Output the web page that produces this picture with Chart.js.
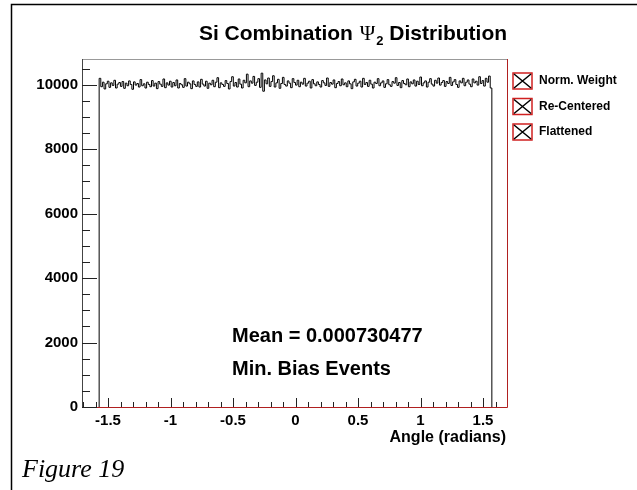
<!DOCTYPE html>
<html>
<head>
<meta charset="utf-8">
<script src="https://cdn.jsdelivr.net/npm/chart.js@4.4.0/dist/chart.umd.min.js"></script>
<style>
  body { margin: 0; background: #fff; }
  canvas { display: block; }
</style>
</head>
<body>
<canvas id="c" width="637" height="490"></canvas>
<script>
// histogram range (radians) and bin contents
const binLow = -Math.PI / 2;
const binHigh = Math.PI / 2;
const counts = [
  10200, 9940, 10080, 9870, 10030, 10110, 9920, 10060, 9980, 10140, 9900, 10020, 10070, 9950, 10100,
  9890, 10050, 9970, 10120, 10010, 9860, 10090, 9990, 10040, 9930, 10160, 9970, 10030, 9900, 10080,
  10010, 9940, 10130, 9960, 10050, 9880, 10100, 10020, 9950, 10180, 9910, 10060, 9990, 10110, 9930,
  10070, 9970, 10150, 9900, 10040, 10000, 9920, 10190, 9960, 10080, 10030, 9880, 10120, 10010, 9950,
  10090, 9930, 10170, 10020, 9960, 10110, 9890, 10050, 10000, 10140, 9940, 10080, 10220, 9910, 10060,
  10010, 9950, 10130, 10040, 9870, 10100, 10250, 9960, 10070, 9930, 10180, 10020, 9900, 10140, 10060,
  10330, 9940, 10120, 10050, 10260, 9980, 10080, 10190, 9920, 10360, 9800, 10150, 10030, 10210, 9950,
  10100, 10280, 9930, 10060, 10170, 9890, 10040, 10230, 10010, 9960, 10120, 10050, 9910, 10190, 10070,
  9990, 10140, 9940, 10080, 10020, 10200, 9960, 10050, 10110, 9900, 10160, 10030, 9970, 10090, 10010,
  9930, 10130, 10060, 9980, 10210, 9950, 10070, 10020, 10150, 9910, 10040, 10100, 9970, 10180, 10000,
  10060, 9940, 10120, 10030, 9880, 10090, 10170, 9960, 10050, 10110, 9930, 10200, 10010, 10070, 9950,
  10140, 10020, 9900, 10080, 10040, 10190, 9970, 10060, 10120, 9920, 10030, 10160, 10000, 9950, 10100,
  10050, 10220, 9980, 10070, 9910, 10130, 10040, 10000, 10180, 9940, 10090, 10030, 10150, 9960, 10110,
  10010, 10240, 9970, 10060, 10120, 9930, 10080, 10190, 10020, 9960, 10140, 10050, 10210, 9990, 10070,
  10130, 9950, 10100, 10040, 10230, 9980, 10090, 10160, 10010, 9920, 10120, 10060, 10200, 9970, 10080,
  10150, 10020, 9940, 10180, 10060, 10110, 9990, 10250, 10040, 10130, 9960, 10200, 10080, 10270, 9900
];
const xMajor = [-1.5, -1, -0.5, 0, 0.5, 1, 1.5];
const xMinorStep = 0.1;
const yMajor = [0, 2000, 4000, 6000, 8000, 10000];
const yMinorStep = 500;
const legendLabels = ['Norm. Weight', 'Re-Centered', 'Flattened'];
const statLines = ['Mean = 0.000730477', 'Min. Bias Events'];
const xTitle = 'Angle (radians)';
const caption = 'Figure 19';

// step outline: start at 0, each bin edge carries that bin's value, back to 0
function histPoints() {
  const w = (binHigh - binLow) / counts.length;
  const pts = [{ x: binLow, y: 0 }];
  counts.forEach((c, i) => pts.push({ x: binLow + i * w, y: c }));
  pts.push({ x: binHigh, y: counts[counts.length - 1] });
  pts.push({ x: binHigh, y: 0 });
  return pts;
}

const SANS = '"Liberation Sans", Arial, sans-serif';

const decor = {
  id: 'decor',
  afterDatasetsDraw(chart) {
    const ctx = chart.ctx;
    const a = chart.chartArea;
    const xs = chart.scales.x, ys = chart.scales.y;
    ctx.save();

    // outer page frame
    ctx.strokeStyle = '#000';
    ctx.lineWidth = 1.5;
    ctx.beginPath();
    ctx.moveTo(11.5, 490);
    ctx.lineTo(11.5, 4.5);
    ctx.lineTo(637, 4.5);
    ctx.stroke();

    // plot frame
    ctx.lineWidth = 1;
    ctx.strokeStyle = '#999';
    ctx.beginPath();
    ctx.moveTo(a.left, a.top + 0.5); ctx.lineTo(a.right, a.top + 0.5);
    ctx.stroke();
    ctx.strokeStyle = '#444';
    ctx.beginPath();
    ctx.moveTo(a.left + 0.5, a.top); ctx.lineTo(a.left + 0.5, a.bottom);
    ctx.stroke();
    ctx.strokeStyle = '#b02020';
    ctx.beginPath();
    ctx.moveTo(a.left, a.bottom + 0.5); ctx.lineTo(a.right + 0.5, a.bottom + 0.5);
    ctx.lineTo(a.right + 0.5, a.top);
    ctx.stroke();

    // x ticks (inside, going up)
    ctx.strokeStyle = '#222';
    ctx.beginPath();
    for (let v = -1.7; v <= 1.7001; v += xMinorStep) {
      const px = Math.round(xs.getPixelForValue(v)) + 0.5;
      if (px < a.left + 1 || px > a.right - 1) continue;
      const major = xMajor.some(m => Math.abs(m - v) < 1e-6);
      ctx.moveTo(px, a.bottom);
      ctx.lineTo(px, a.bottom - (major ? 9 : 5));
    }
    // y ticks (inside, going right)
    for (let v = 0; v <= ys.max; v += yMinorStep) {
      const py = Math.round(ys.getPixelForValue(v)) + 0.5;
      if (py < a.top + 1) continue;
      const major = yMajor.includes(v);
      ctx.moveTo(a.left, py);
      ctx.lineTo(a.left + (major ? 15 : 8), py);
    }
    ctx.stroke();

    // tick labels
    ctx.fillStyle = '#000';
    ctx.font = 'bold 15px ' + SANS;
    ctx.textAlign = 'center';
    ctx.textBaseline = 'top';
    xMajor.forEach(v => ctx.fillText(String(v), xs.getPixelForValue(v), a.bottom + 6));
    ctx.textAlign = 'right';
    ctx.textBaseline = 'middle';
    yMajor.forEach(v => ctx.fillText(String(v), a.left - 4, ys.getPixelForValue(v)));

    // axis title
    ctx.textAlign = 'right';
    ctx.textBaseline = 'alphabetic';
    ctx.font = 'bold 16px ' + SANS;
    ctx.fillText(xTitle, a.right - 1, 442);

    // title with Psi_2
    const t1 = 'Si Combination ', t3 = ' Distribution';
    const fB = 'bold 21px ' + SANS, fPsi = '21px "Liberation Serif", "DejaVu Serif", serif', fSub = 'bold 13px ' + SANS;
    ctx.font = fB; const w1 = ctx.measureText(t1).width, w3 = ctx.measureText(t3).width;
    ctx.font = fPsi; const wP = ctx.measureText('\u03A8').width + 2;
    ctx.font = fSub; const wS = ctx.measureText('2').width;
    let x = 353 - (w1 + wP + wS + w3) / 2;
    const by = 40;
    ctx.textAlign = 'left';
    ctx.font = fB; ctx.fillText(t1, x, by); x += w1;
    ctx.font = fPsi; ctx.fillText('\u03A8', x + 1, by); x += wP;
    ctx.font = fSub; ctx.fillText('2', x, by + 5); x += wS;
    ctx.font = fB; ctx.fillText(t3, x, by);

    // statistics text
    ctx.font = 'bold 20px ' + SANS;
    ctx.fillText(statLines[0], 232, 342);
    ctx.fillText(statLines[1], 232, 375);

    // legend
    ctx.font = 'bold 12px ' + SANS;
    ctx.textBaseline = 'middle';
    legendLabels.forEach((lab, i) => {
      const cy = 81 + i * 25.5;
      const bx = 513, bw = 19, bh = 16, top = cy - bh / 2;
      ctx.fillStyle = '#fff';
      ctx.fillRect(bx, top, bw, bh);
      ctx.strokeStyle = '#d02020';
      ctx.lineWidth = 1.5;
      ctx.strokeRect(bx, top, bw, bh);
      ctx.strokeStyle = '#000';
      ctx.lineWidth = 1.5;
      ctx.beginPath();
      ctx.moveTo(bx + 1, top + 1); ctx.lineTo(bx + bw - 1, top + bh - 1);
      ctx.moveTo(bx + bw - 1, top + 1); ctx.lineTo(bx + 1, top + bh - 1);
      ctx.stroke();
      ctx.fillStyle = '#000';
      ctx.fillText(lab, 539, cy);
    });

    // caption
    ctx.textBaseline = 'alphabetic';
    ctx.font = 'italic 26px "Liberation Serif", "Times New Roman", serif';
    ctx.fillText(caption, 22, 477);

    ctx.restore();
  }
};

new Chart(document.getElementById('c'), {
  type: 'line',
  data: {
    datasets: [{
      data: histPoints(),
      borderColor: '#000',
      borderWidth: 1,
      stepped: 'before',
      pointRadius: 0,
      fill: false
    }]
  },
  options: {
    responsive: false,
    animation: false,
    devicePixelRatio: 1,
    layout: { padding: { left: 82, right: 130, top: 59, bottom: 83 } },
    scales: {
      x: { type: 'linear', min: -1.708, max: 1.692, display: false },
      y: { min: 0, max: 10800, display: false }
    },
    plugins: { legend: { display: false }, tooltip: { enabled: false }, title: { display: false } }
  },
  plugins: [decor]
});
</script>
</body>
</html>
